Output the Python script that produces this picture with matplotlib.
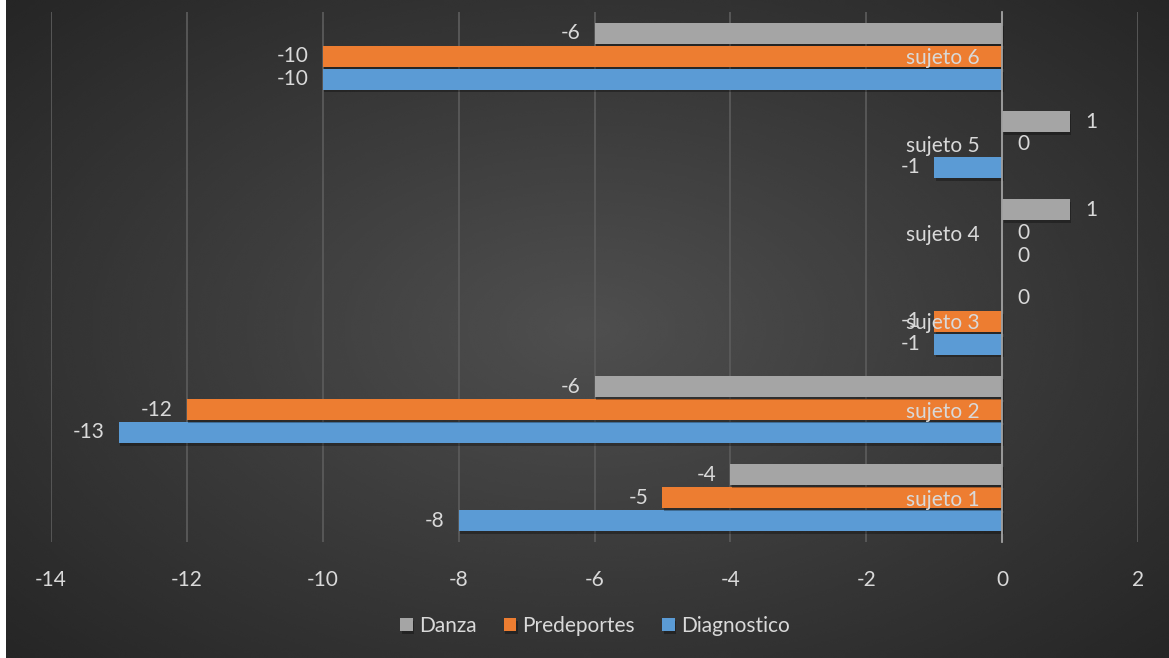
import numpy as np
import matplotlib.pyplot as plt
import matplotlib.patheffects as pe

# data
sujetos = ['sujeto 1', 'sujeto 2', 'sujeto 3', 'sujeto 4', 'sujeto 5', 'sujeto 6']
diagnostico = [-8, -13, -1, 0, -1, -10]
predeportes = [-5, -12, -1, 0, 0, -10]
danza = [-4, -6, 0, 1, 1, -6]

series = [('Diagnostico', diagnostico, '#5b9bd5'),
          ('Predeportes', predeportes, '#ed7d31'),
          ('Danza', danza, '#a5a5a5')]

txt = '#d9d9d9'
fs = 15
plt.rcParams['font.family'] = ['Lato', 'DejaVu Sans']
plt.rcParams['axes.unicode_minus'] = False

fig = plt.figure(figsize=(11.69, 6.58), dpi=100, facecolor='white')

# radial gradient background
bg = fig.add_axes([6 / 1169, 0, 1 - 6 / 1169, 1])
yy, xx = np.mgrid[-1:1:300j, -1:1:500j]
r = np.sqrt((xx * 0.95) ** 2 + (yy * 0.9) ** 2)
bg.imshow(0.31 - 0.16 * np.clip(r / 1.3, 0, 1), cmap='gray', vmin=0, vmax=1,
          aspect='auto', extent=[0, 1, 0, 1], interpolation='bicubic')
bg.axis('off')

ax = fig.add_axes([51 / 1169, 1 - 542 / 658, (1138 - 51) / 1169, 530 / 658])
ax.patch.set_alpha(0)

y = np.arange(len(sujetos))
step = 0.26
h = 0.235
shadow = [pe.SimplePatchShadow(offset=(1, -2), shadow_rgbFace='black', alpha=0.3), pe.Normal()]
for i, (name, vals, col) in enumerate(series):
    pos = y + (i - 1) * step
    bars = ax.barh(pos, vals, height=h, color=col, label=name, zorder=3)
    for b in bars:
        b.set_path_effects(shadow)
    for p, v in zip(pos, vals):
        if v < 0:
            ax.annotate(str(v), (v, p), xytext=(-10, 0), textcoords='offset points',
                        ha='right', va='center', color=txt, fontsize=fs, zorder=5)
        else:
            ax.annotate(str(v), (v, p), xytext=(11, 0), textcoords='offset points',
                        ha='left', va='center', color=txt, fontsize=fs, zorder=5)

ax.set_xlim(-14, 2)
ax.set_ylim(-0.5, len(sujetos) - 0.5)
ax.set_xticks(np.arange(-14, 3, 2))
ax.set_yticks(y)
ax.set_yticklabels(sujetos)
ax.grid(axis='x', color='#5a5a5a', linewidth=1.3, zorder=0)
ax.grid(axis='y', visible=False)
for s in ['top', 'right', 'bottom']:
    ax.spines[s].set_visible(False)
ax.spines['left'].set_position(('data', 0))
ax.spines['left'].set_color('#a0a0a0')
ax.spines['left'].set_linewidth(1.3)
ax.spines['left'].set_zorder(4)
ax.tick_params(axis='y', length=0, pad=16, labelcolor=txt, labelsize=fs)
ax.tick_params(axis='x', length=0, pad=20, labelcolor=txt, labelsize=fs)
ax.yaxis.set_zorder(6)

handles, labels = ax.get_legend_handles_labels()
leg = fig.legend(handles[::-1], labels[::-1], loc='center', bbox_to_anchor=(595 / 1169, 1 - 626 / 658),
                 ncol=3, frameon=False, fontsize=fs, labelcolor=txt, handlelength=0.6,
                 handleheight=0.6, handletextpad=0.3, columnspacing=1.3)

fig.savefig('out.png', dpi=100, facecolor=fig.get_facecolor())
